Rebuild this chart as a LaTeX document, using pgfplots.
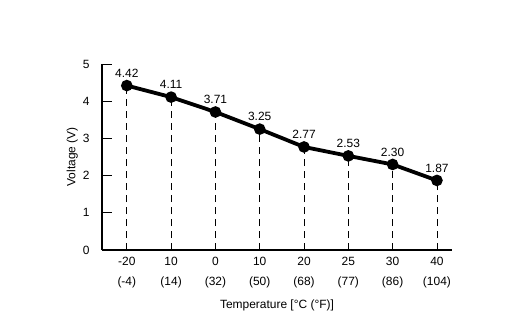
\documentclass[border=0pt]{standalone}
\usepackage{pgfplots}
\pgfplotsset{compat=1.18}
\usepackage{fontspec}
\setmainfont{Liberation Sans}
\begin{document}
\begin{tikzpicture}
\useasboundingbox (-102bp,-81bp) rectangle (430bp,250bp);
\begin{axis}[
  at={(0bp,0bp)}, anchor=south west,
  scale only axis, width=350bp, height=186bp,
  /pgf/number format/assume math mode=true,
  xmin=-0.56, xmax=7.34, ymin=0, ymax=5,
  axis x line*=bottom, axis y line*=left,
  axis line style={-, line width=2.4bp},
  xtick={0,...,7},
  xticklabels={{-20\\(-4)},{10\\(14)},{0\\(32)},{10\\(50)},{20\\(68)},{25\\(77)},{30\\(86)},{40\\(104)}},
  xtick style={draw=none},
  xticklabel style={align=center, font=\fontsize{12}{19.5}\selectfont, yshift=-4bp},
  ytick={0,...,5},
  tick align=inside,
  major tick length=10bp,
  ytick style={line width=0.8bp, black},
  yticklabel style={font=\fontsize{12}{14}\selectfont, anchor=east, xshift=-9bp},
  xlabel={Temperature [\textdegree C (\textdegree F)]},
  ylabel={Voltage (V)},
  xlabel style={font=\fontsize{12}{14}\selectfont, at={(axis description cs:0.5,-0.30)}, anchor=center},
  ylabel style={font=\fontsize{12}{14}\selectfont, at={(axis description cs:-0.085,0.5)}, anchor=center},
  clip=false,
]
\addplot[ycomb, black, line width=0.8bp, dash pattern=on 7bp off 5bp, no marks]
  coordinates {(0,4.42) (1,4.11) (2,3.71) (3,3.25) (4,2.77) (5,2.53) (6,2.30) (7,1.87)};
\addplot[black, line width=3.8bp, mark=*, mark size=3.8bp,
  nodes near coords={\pgfmathprintnumber[fixed,fixed zerofill,precision=2]{\pgfplotspointmeta}},
  every node near coord/.append style={font=\fontsize{12}{14}\selectfont, anchor=south, yshift=3bp}]
  coordinates {(0,4.42) (1,4.11) (2,3.71) (3,3.25) (4,2.77) (5,2.53) (6,2.30) (7,1.87)};
\end{axis}
\end{tikzpicture}
\end{document}
